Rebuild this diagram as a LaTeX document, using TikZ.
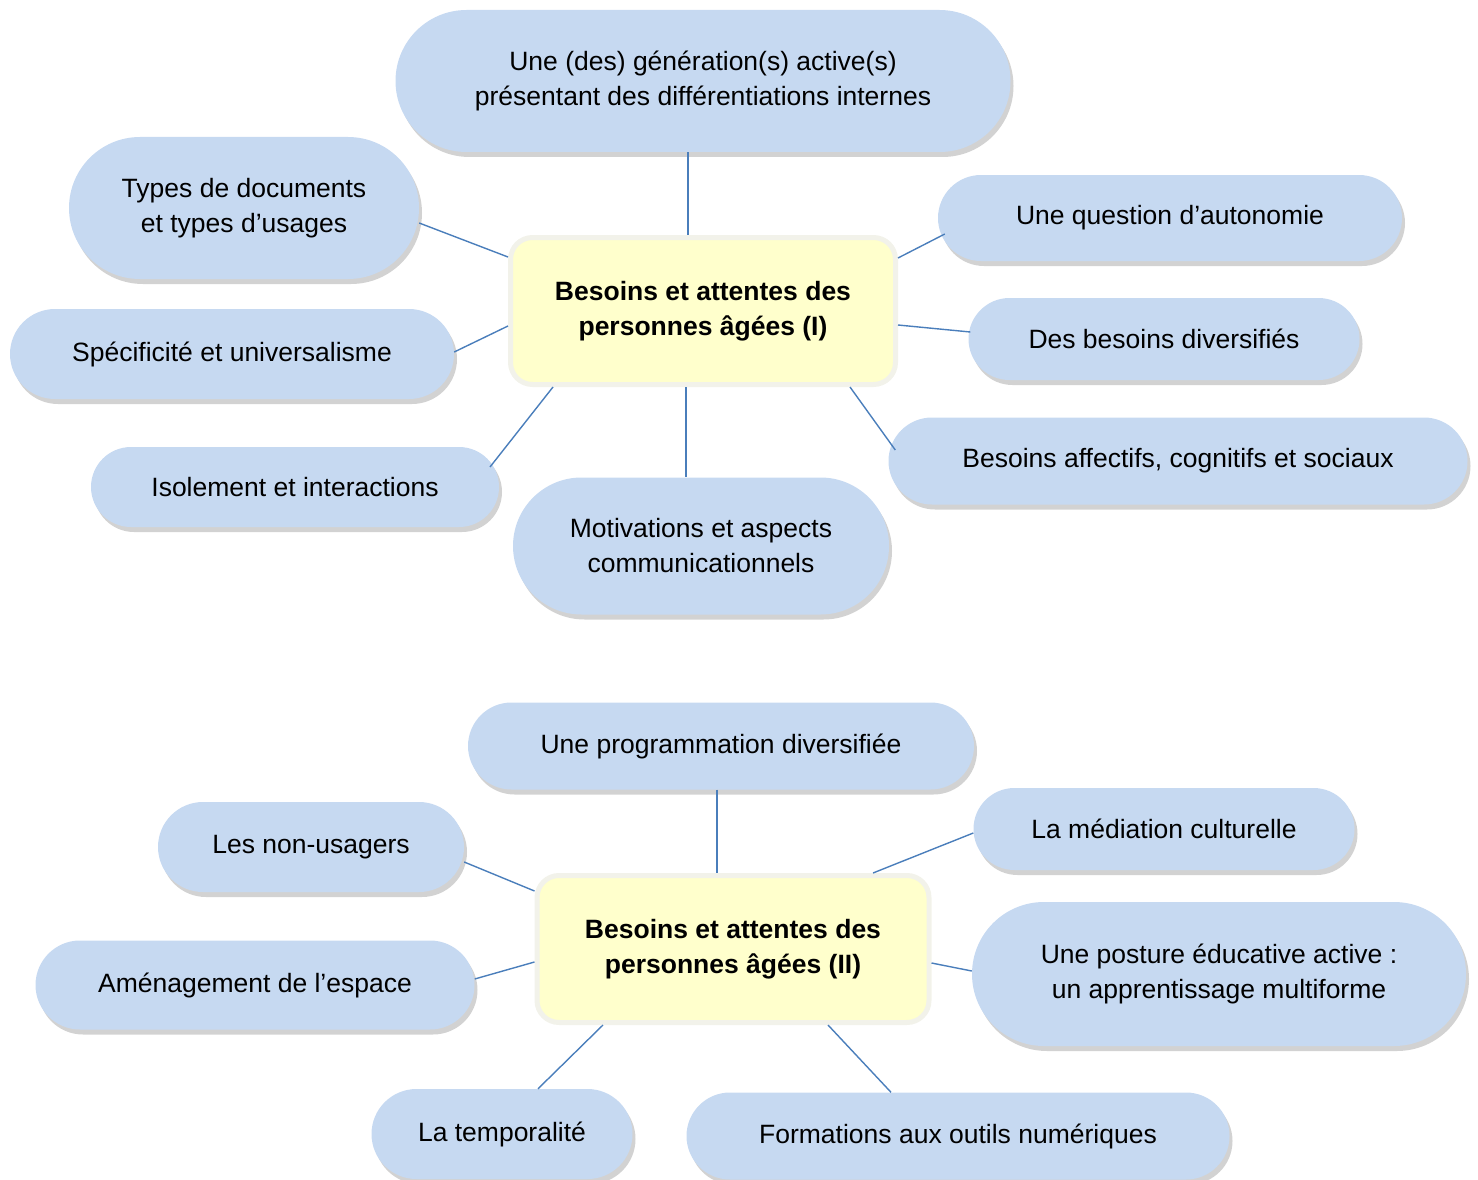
\documentclass[tikz,border=0pt]{standalone}
\usepackage{fontspec}
\setmainfont{Liberation Sans}
\usetikzlibrary{shapes.misc,shadows}
\definecolor{bubfill}{RGB}{198,217,241}
\definecolor{linkcol}{RGB}{74,126,187}
\definecolor{corefill}{RGB}{255,255,204}
\definecolor{coreedge}{RGB}{242,242,234}
\tikzset{
  bub/.style 2 args={rounded rectangle, fill=bubfill, draw=none, minimum width=#1, minimum height=#2,
    inner sep=0pt, align=center, font=\fontsize{26.5}{35}\selectfont,
    drop shadow={shadow xshift=3pt, shadow yshift=-5pt, opacity=0.25, fill=black!70}},
  core/.style 2 args={rectangle, rounded corners=22pt, fill=corefill, draw=coreedge, line width=5pt,
    minimum width=#1, minimum height=#2, inner sep=0pt, align=center,
    font=\fontsize{26.5}{35}\selectfont\bfseries},
  link/.style={draw=linkcol, line width=1.4pt}
}
\begin{document}
\begin{tikzpicture}[x=1pt,y=-1pt]
\useasboundingbox (0,0) rectangle (1478,1180);
% ---------- part I ----------
\node[core={385pt}{147pt}] (c1) at (703,311) {Besoins et attentes des\\personnes âgées (I)};
\node[bub={615pt}{142pt}] (gen) at (703,81) {Une (des) génération(s) active(s)\\présentant des différentiations internes};
\node[bub={350pt}{142pt}] (types) at (244,208) {Types de documents\\et types d’usages};
\node[bub={444pt}{90pt}] (spec) at (232,354) {Spécificité et universalisme};
\node[bub={408pt}{80pt}] (iso) at (295,487) {Isolement et interactions};
\node[bub={376pt}{137pt}] (motiv) at (701,546) {Motivations et aspects\\communicationnels};
\node[bub={464pt}{86pt}] (auto) at (1170,218) {Une question d’autonomie};
\node[bub={391pt}{82pt}] (div) at (1164,339) {Des besoins diversifiés};
\node[bub={579pt}{87pt}] (aff) at (1178,461) {Besoins affectifs, cognitifs et sociaux};
\draw[link] ([xshift=-15pt]gen.south) -- ([xshift=-15pt]c1.north);
\draw[link] ([yshift=-15pt]types.east) -- ([yshift=54pt]c1.west);
\draw[link] ([yshift=2pt]spec.east) -- ([yshift=-15pt]c1.west);
\draw[link] ([xshift=195pt,yshift=20pt]iso.center) -- ([xshift=-150pt]c1.south);
\draw[link] ([xshift=-17pt]c1.south) -- ([xshift=-15pt]motiv.north);
\draw[link] ([yshift=53pt]c1.east) -- ([xshift=7pt,yshift=-16pt]auto.west);
\draw[link] ([yshift=-14pt]c1.east) -- ([xshift=2pt,yshift=7pt]div.west);
\draw[link] ([xshift=147pt]c1.south) -- ([xshift=7pt,yshift=11pt]aff.west);
% ---------- part II ----------
\node[core={392pt}{147pt}] (c2) at (733,949) {Besoins et attentes des\\personnes âgées (II)};
\node[bub={506pt}{87pt}] (prog) at (721,746) {Une programmation diversifiée};
\node[bub={306pt}{90pt}] (nu) at (311,847) {Les non-usagers};
\node[bub={439pt}{89pt}] (am) at (255,985) {Aménagement de l’espace};
\node[bub={261pt}{90pt}] (temp) at (502,1134) {La temporalité};
\node[bub={543pt}{87pt}] (form) at (958,1136) {Formations aux outils numériques};
\node[bub={381pt}{82pt}] (med) at (1164,829) {La médiation culturelle};
\node[bub={494pt}{144pt}] (post) at (1219,974) {Une posture éducative active :\\un apprentissage multiforme};
\draw[link] ([xshift=-4pt]prog.south) -- ([xshift=-16pt]c2.north);
\draw[link] ([yshift=-15pt]nu.east) -- ([yshift=58pt]c2.west);
\draw[link] ([yshift=6pt]am.east) -- ([yshift=-13pt]c2.west);
\draw[link] ([xshift=36pt]temp.north) -- ([xshift=-130pt]c2.south);
\draw[link] ([xshift=-67pt]form.north) -- ([xshift=95pt]c2.south);
\draw[link] ([yshift=-4pt]med.west) -- ([xshift=140pt]c2.north);
\draw[link] ([yshift=3pt]post.west) -- ([yshift=-14pt]c2.east);
\end{tikzpicture}
\end{document}
